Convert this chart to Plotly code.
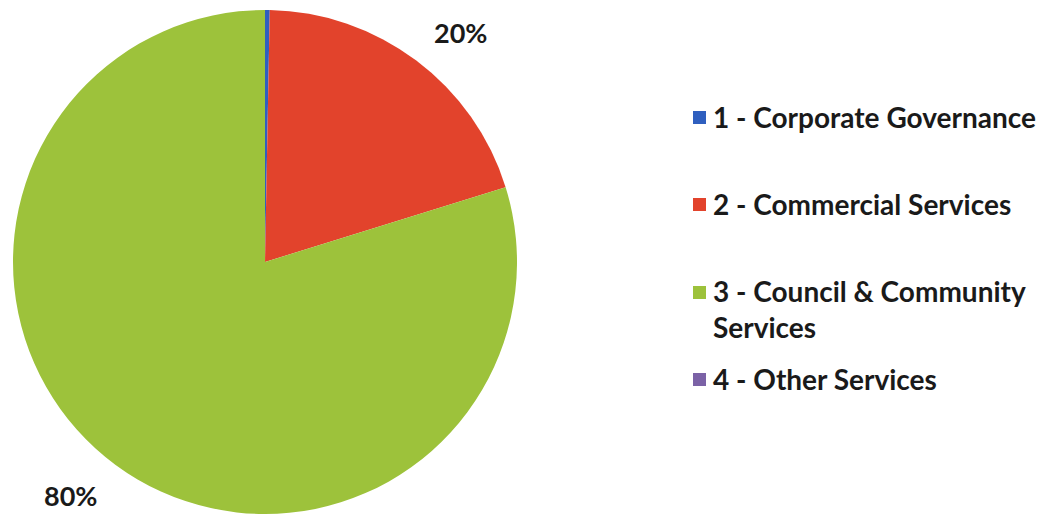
import plotly.graph_objects as go

# Share of spend by service area (percent)
categories = [
    "1 - Corporate Governance",
    "2 - Commercial Services",
    "3 - Council & Community Services",
    "4 - Other Services",
]
legend_text = [
    "1 - Corporate Governance",
    "2 - Commercial Services",
    "3 - Council & Community<br>Services",
    "4 - Other Services",
]
shares = [0.3, 19.9, 79.8, 0.0]
colors = ["#2F5FBF", "#E2432C", "#9DC23B", "#7B62A6"]

W, H = 1050, 517
FONT = "Lato"

fig = go.Figure(
    go.Pie(
        labels=categories,
        values=shares,
        sort=False,
        direction="clockwise",
        rotation=0,
        marker=dict(colors=colors, line=dict(width=0)),
        textinfo="none",
        hoverinfo="label+percent",
        domain=dict(x=[13 / W, 517 / W], y=[3 / H, 507 / H]),
        showlegend=False,
    )
)

annotations = []
shapes = []

# Outside percentage labels for the two visible slices
pct_labels = {1: (460, 32), 2: (70, 495)}
for i, (px, py) in pct_labels.items():
    annotations.append(
        dict(
            x=px / W, y=1 - py / H, xref="paper", yref="paper",
            text=f"<b>{round(shares[i])}%</b>", showarrow=False,
            font=dict(family=FONT, size=27, color="#1a1a1a"),
            xanchor="center", yanchor="middle",
        )
    )

# Legend drawn as swatches plus text
legend_rows = [117, 204, 309, 379]
for i, cy in enumerate(legend_rows):
    first_line_y = cy if "<br>" not in legend_text[i] else 292
    shapes.append(
        dict(
            type="rect", xref="paper", yref="paper",
            x0=693 / W, x1=706 / W,
            y0=1 - (first_line_y + 7) / H, y1=1 - (first_line_y - 6) / H,
            fillcolor=colors[i], line=dict(width=0),
        )
    )
    annotations.append(
        dict(
            x=711 / W, y=1 - cy / H, xref="paper", yref="paper",
            text=f"<b>{legend_text[i]}</b>", showarrow=False,
            font=dict(family=FONT, size=28, color="#1a1a1a"),
            xanchor="left", yanchor="middle", align="left",
        )
    )

fig.update_layout(
    width=W, height=H,
    margin=dict(l=0, r=0, t=0, b=0),
    paper_bgcolor="white", plot_bgcolor="white",
    annotations=annotations, shapes=shapes,
)

fig.write_html("out.html")
